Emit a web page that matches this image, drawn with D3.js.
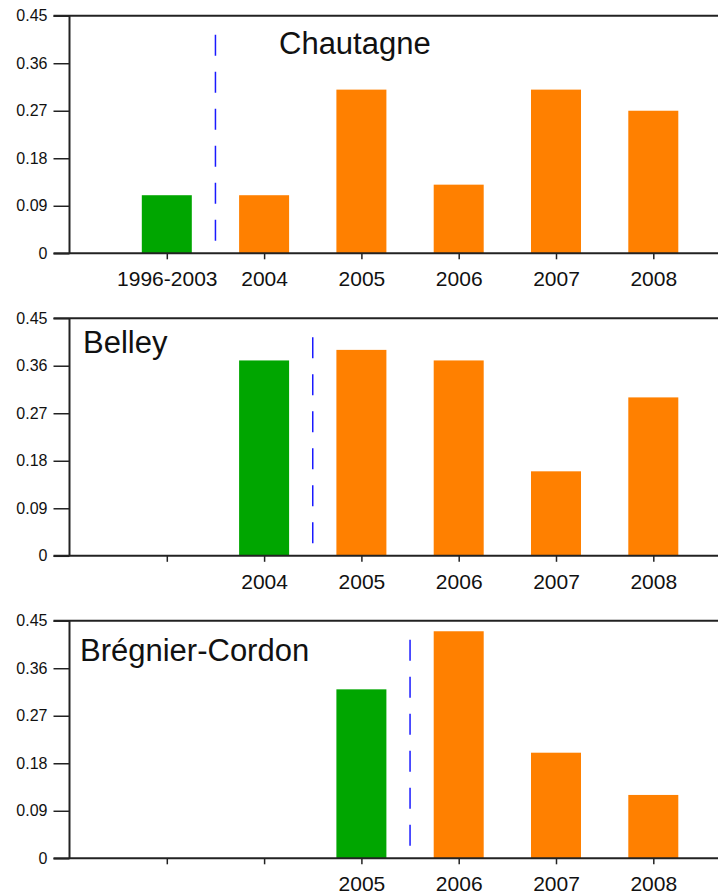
<!DOCTYPE html>
<html>
<head>
<meta charset="utf-8">
<script src="https://cdn.jsdelivr.net/npm/d3@7"></script>
<style>
  body { margin: 0; background: #fff; }
  svg { display: block; font-family: "Liberation Sans", Arial, sans-serif; }
</style>
</head>
<body>
<svg id="canvas" width="718" height="894"></svg>
<script>
// data
let sites = ["Chautagne", "Belley", "Brégnier-Cordon"];
let chautagneLabels = ["1996-2003", "2004", "2005", "2006", "2007", "2008"];
let belleyLabels = ["", "2004", "2005", "2006", "2007", "2008"];
let bregnierLabels = ["", "", "2005", "2006", "2007", "2008"];
let chautagneValues = [0.11, 0.11, 0.31, 0.13, 0.31, 0.27];
let belleyValues = [null, 0.37, 0.39, 0.37, 0.16, 0.30];
let bregnierValues = [null, null, 0.32, 0.43, 0.20, 0.12];
let yTicks = [0, 0.09, 0.18, 0.27, 0.36, 0.45];

let panels = [
  { name: sites[0], labels: chautagneLabels, values: chautagneValues, titleX: 279, titleY: 38 },
  { name: sites[1], labels: belleyLabels, values: belleyValues, titleX: 83, titleY: 35 },
  { name: sites[2], labels: bregnierLabels, values: bregnierValues, titleX: 80, titleY: 40 }
];

let canvas = d3.select("#canvas");
let width = 718;
let axisX = 69.5;
let step = 97.3;
let panelH = 237.6;
let font = "Liberation Sans, Arial, sans-serif";

let x = d3.scaleLinear().domain([0, 1]).range([axisX, axisX + step]);
let y = d3.scaleLinear().domain([0, 0.45]).range([panelH, 0]);

panels.forEach((panel, p) => {
  let g = canvas.append("g")
    .attr("transform", "translate(0," + (15.7 + p * 302.5) + ")");

  // bars: first existing value is green, the rest orange
  let firstIdx = panel.values.findIndex((v) => v !== null);
  panel.values.forEach((v, i) => {
    if (v === null) return;
    g.append("rect")
      .attr("x", x(i + 1) - 25)
      .attr("y", y(v))
      .attr("width", 50)
      .attr("height", y(0) - y(v))
      .attr("fill", i === firstIdx ? "#00a600" : "#ff8000");
  });

  // dashed separator after the green bar
  g.append("line")
    .attr("x1", x(firstIdx + 1.5))
    .attr("x2", x(firstIdx + 1.5))
    .attr("y1", 19)
    .attr("y2", y(0))
    .attr("stroke", "#1a1aff")
    .attr("stroke-width", 1.5)
    .attr("stroke-dasharray", "21,16");

  // y axis
  let yAxis = d3.axisLeft(y)
    .tickValues(yTicks)
    .tickSize(16)
    .tickPadding(6)
    .tickFormat((d) => (d === 0 ? "0" : d3.format(".2f")(d)));
  let ya = g.append("g")
    .attr("transform", "translate(" + axisX + ",0)")
    .call(yAxis);
  ya.select(".domain").remove();
  ya.selectAll(".tick line").attr("stroke", "#222").attr("stroke-width", 1.5);
  ya.selectAll(".tick text")
    .attr("font-size", 16)
    .attr("font-family", font)
    .attr("fill", "#111");

  // frame lines
  g.append("line")
    .attr("x1", axisX).attr("x2", axisX)
    .attr("y1", y(0.45)).attr("y2", y(0))
    .attr("stroke", "#222").attr("stroke-width", 2);
  [0, 0.45].forEach((v) => {
    g.append("line")
      .attr("x1", axisX - 16).attr("x2", width)
      .attr("y1", y(v)).attr("y2", y(v))
      .attr("stroke", "#222").attr("stroke-width", 2);
  });

  // x axis ticks and labels
  let xAxis = d3.axisBottom(x)
    .tickValues(d3.range(1, 7))
    .tickSize(6)
    .tickPadding(12)
    .tickFormat((d) => panel.labels[d - 1]);
  let xa = g.append("g")
    .attr("transform", "translate(0," + y(0) + ")")
    .call(xAxis);
  xa.select(".domain").remove();
  xa.selectAll(".tick line").attr("stroke", "#222").attr("stroke-width", 1.5);
  xa.selectAll(".tick text")
    .attr("font-size", 21)
    .attr("font-family", font)
    .attr("fill", "#111");

  // site title
  g.append("text")
    .attr("x", panel.titleX)
    .attr("y", panel.titleY)
    .attr("font-size", 31)
    .attr("fill", "#111")
    .text(panel.name);
});
</script>
</body>
</html>
